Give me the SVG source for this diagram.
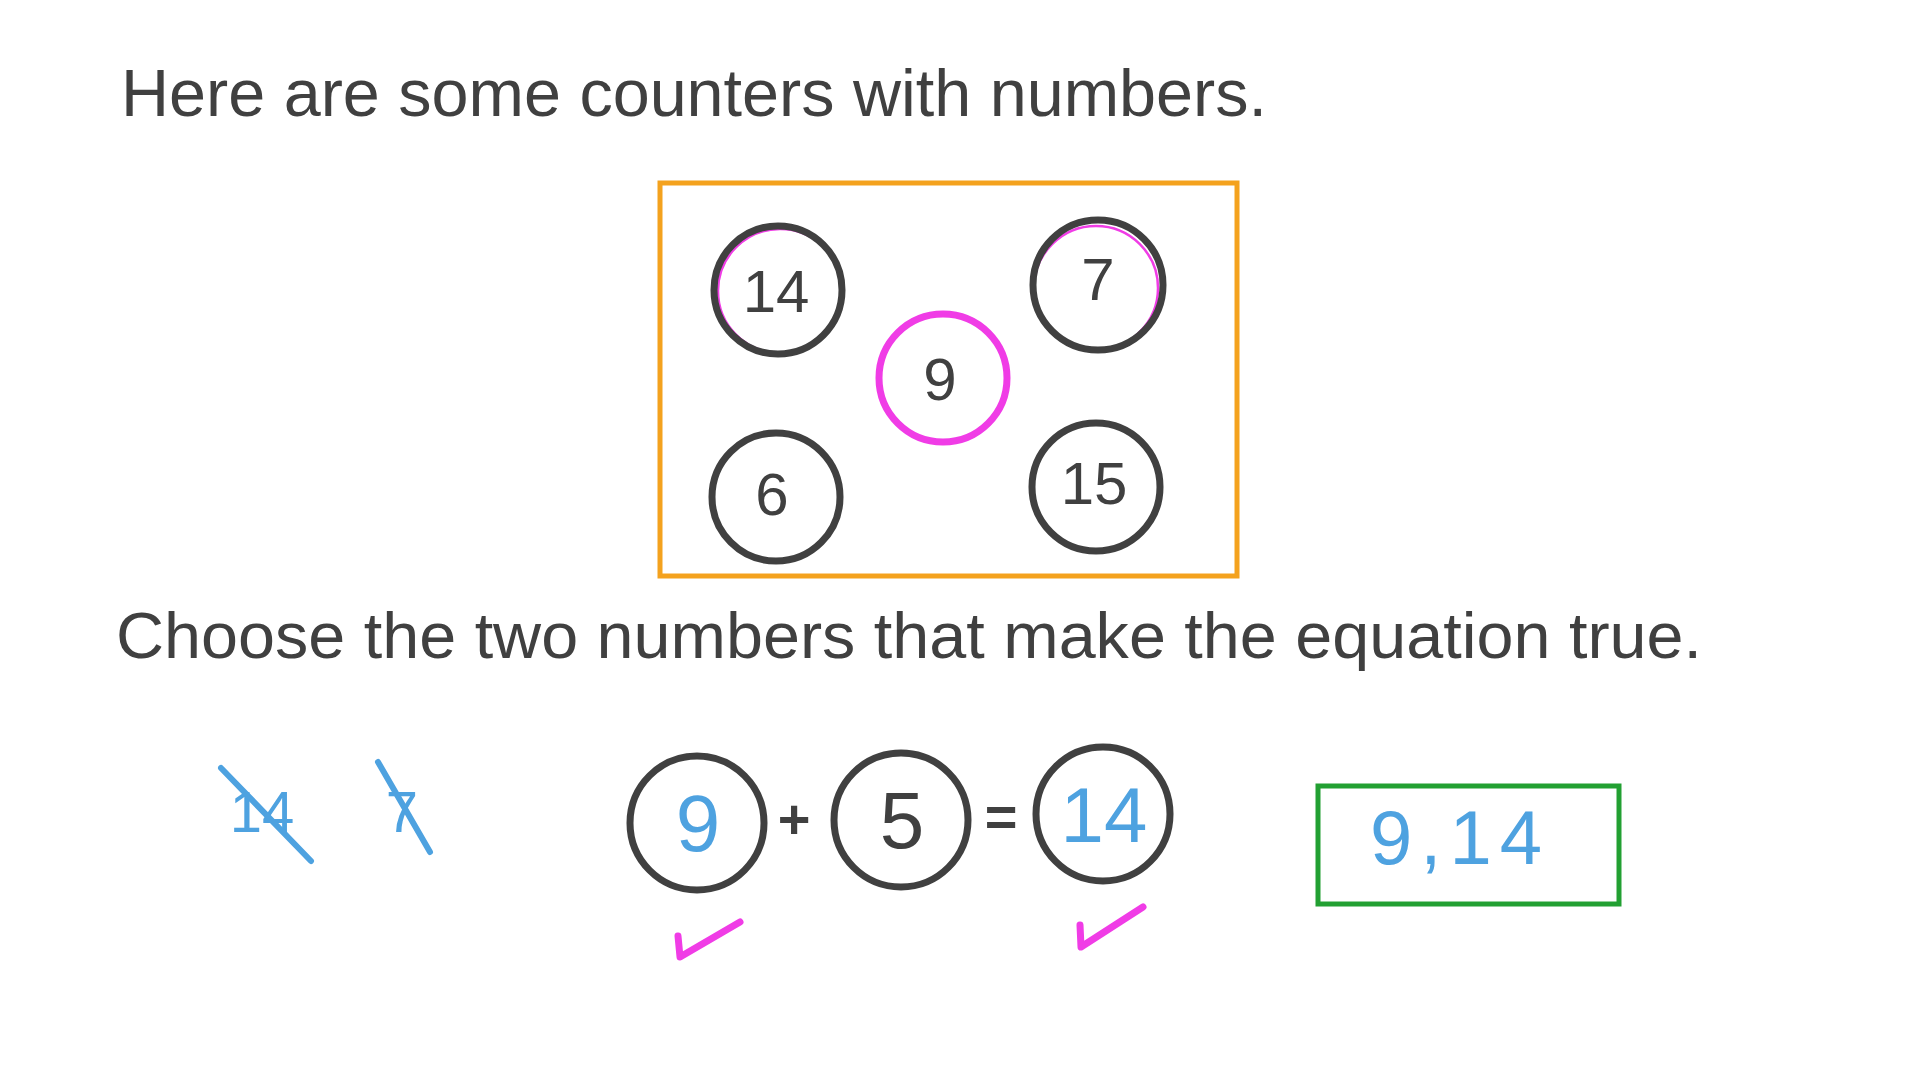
<svg xmlns="http://www.w3.org/2000/svg" width="1920" height="1080" viewBox="0 0 1920 1080">
<style>
.txt{font-family:"Liberation Sans","DejaVu Sans",sans-serif;fill:#404040;}
.num{font-family:"Liberation Sans","DejaVu Sans",sans-serif;fill:#404040;text-anchor:middle;}
.ring{fill:none;stroke:#404040;stroke-width:7;}
.pinkring{fill:none;stroke:#f03ce6;stroke-width:7;}
.pinkthin{fill:none;stroke:#f03ce6;stroke-width:2.5;}
.bluestroke{fill:none;stroke:#4ea2e0;stroke-width:6;stroke-linecap:round;}
.check{fill:none;stroke:#f03ce6;stroke-width:7;stroke-linecap:round;stroke-linejoin:round;}
</style>
<rect width="1920" height="1080" fill="#ffffff"/>

<g id="title">
<text class="txt" x="121" y="116" font-size="66" textLength="1146" lengthAdjust="spacingAndGlyphs">Here are some counters with numbers.</text>
</g>

<g id="counter-box">
<rect x="660" y="183" width="577" height="393" fill="none" stroke="#f4a21e" stroke-width="5"/>
</g>

<g id="counter-14">
<circle class="pinkthin" cx="780" cy="291" r="62"/>
<circle class="ring" cx="778" cy="290" r="64"/>
<text class="num" x="776" y="312" font-size="60">14</text>
</g>
<g id="counter-7">
<circle class="pinkthin" cx="1096" cy="288" r="62"/>
<circle class="ring" cx="1098" cy="285" r="65"/>
<text class="num" x="1098" y="300" font-size="60">7</text>
</g>
<g id="counter-9">
<circle class="pinkring" cx="943" cy="378" r="64"/>
<text class="num" x="940" y="400" font-size="60">9</text>
</g>
<g id="counter-6">
<circle class="ring" cx="776" cy="497" r="64"/>
<text class="num" x="772" y="515" font-size="60">6</text>
</g>
<g id="counter-15">
<circle class="ring" cx="1096" cy="487" r="64"/>
<text class="num" x="1094" y="504" font-size="60">15</text>
</g>

<g id="question">
<text class="txt" x="116" y="658" font-size="64" textLength="1586" lengthAdjust="spacingAndGlyphs">Choose the two numbers that make the equation true.</text>
</g>

<g id="crossed-14">
<text class="num" x="262" y="832" font-size="58" style="fill:#4ea2e0">14</text>
<line class="bluestroke" x1="221" y1="768" x2="311" y2="861"/>
</g>
<g id="crossed-7">
<text class="num" x="402" y="832" font-size="58" style="fill:#4ea2e0">7</text>
<line class="bluestroke" x1="378" y1="762" x2="430" y2="852"/>
</g>

<g id="eq-9">
<circle class="ring" cx="697" cy="823" r="67"/>
<text class="num" x="698" y="851" font-size="80" style="fill:#4ea2e0">9</text>
</g>
<g id="plus">
<text class="num" x="794" y="838" font-size="56" font-weight="bold">+</text>
</g>
<g id="eq-5">
<circle class="ring" cx="901" cy="820" r="67"/>
<text class="num" x="902" y="848" font-size="80">5</text>
</g>
<g id="equals">
<text class="num" x="1001" y="836" font-size="56" font-weight="bold">=</text>
</g>
<g id="eq-14">
<circle class="ring" cx="1103" cy="814" r="67"/>
<text class="num" x="1104" y="842" font-size="78" style="fill:#4ea2e0">14</text>
</g>

<g id="check-9">
<polyline class="check" points="678,936 680,957 740,922"/>
</g>
<g id="check-14">
<polyline class="check" points="1080,925 1081,947 1143,907"/>
</g>

<g id="answer-box">
<rect x="1318" y="786" width="301" height="118" fill="none" stroke="#22a032" stroke-width="5"/>
<text class="num" x="1460" y="864" font-size="76" letter-spacing="8" style="fill:#4ea2e0">9,14</text>
</g>

<g id="connectors"/>
</svg>
